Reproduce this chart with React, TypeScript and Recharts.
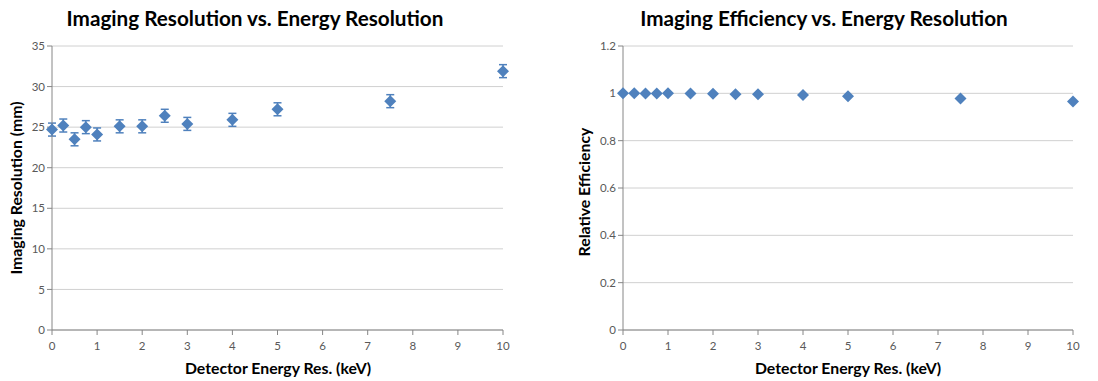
import { CartesianGrid, ErrorBar, Scatter, ScatterChart, XAxis, YAxis } from "recharts";

const energyRes = [0, 0.25, 0.5, 0.75, 1, 1.5, 2, 2.5, 3, 4, 5, 7.5, 10];
const imagingRes = [24.7, 25.2, 23.5, 25.0, 24.1, 25.1, 25.1, 26.4, 25.4, 25.9, 27.2, 28.2, 31.9];
const imagingErr = [0.8, 0.8, 0.8, 0.8, 0.8, 0.8, 0.8, 0.8, 0.8, 0.8, 0.8, 0.8, 0.8];
const efficiency = [1.0, 1.0, 0.999, 0.999, 1.0, 0.999, 0.998, 0.996, 0.996, 0.993, 0.988, 0.978, 0.965];

const xTicks = [0, 1, 2, 3, 4, 5, 6, 7, 8, 9, 10];
const resTicks = [0, 5, 10, 15, 20, 25, 30, 35];
const effTicks = [0, 0.2, 0.4, 0.6, 0.8, 1, 1.2];

const BLUE = "#4F81BD";
const FONT = "Lato, 'Open Sans', sans-serif";

const resData = energyRes.map((x, i) => ({ x, y: imagingRes[i], err: imagingErr[i] }));
const effData = energyRes.map((x, i) => ({ x, y: efficiency[i] }));

function Diamond(props: any) {
  const { cx, cy } = props;
  const r = 6;
  return (
    <polygon
      points={`${cx},${cy - r} ${cx + r},${cy} ${cx},${cy + r} ${cx - r},${cy}`}
      fill={BLUE}
    />
  );
}

const tickStyle = { fontSize: 11.5, fill: "#595959", fontFamily: FONT };
const xTickStyle = { ...tickStyle, dy: 5 };
const axisLine = { stroke: "#868686" };

function Label({ x, y, size, text, rotate }: { x: number; y: number; size: number; text: string; rotate?: boolean }) {
  return (
    <div
      style={{
        position: "absolute",
        left: x,
        top: y,
        fontFamily: FONT,
        fontWeight: 700,
        fontSize: size,
        lineHeight: 1,
        color: "#000",
        whiteSpace: "nowrap",
        transform: `translate(-50%, -50%)${rotate ? " rotate(-90deg)" : ""}`,
      }}
    >
      {text}
    </div>
  );
}

export default function App() {
  return (
    <div style={{ position: "absolute", left: 0, top: 0, width: 1098, height: 381, background: "#fff" }}>
      <div style={{ position: "absolute", left: 0, top: 0 }}>
        <ScatterChart width={549} height={381} margin={{ top: 46, right: 46, bottom: 0, left: 0 }}>
          <CartesianGrid vertical={false} stroke="#d0d0d0" />
          <XAxis
            type="number"
            dataKey="x"
            domain={[0, 10]}
            ticks={xTicks}
            tick={xTickStyle}
            tickSize={5}
            axisLine={axisLine}
            tickLine={axisLine}
            height={51}
            interval={0}
          />
          <YAxis
            type="number"
            dataKey="y"
            domain={[0, 35]}
            ticks={resTicks}
            tick={tickStyle}
            tickSize={5}
            axisLine={axisLine}
            tickLine={axisLine}
            width={52}
            interval={0}
          />
          <Scatter data={resData} fill={BLUE} shape={<Diamond />} isAnimationActive={false}>
            <ErrorBar dataKey="err" direction="y" width={4} stroke={BLUE} strokeWidth={1.5} isAnimationActive={false} />
          </Scatter>
        </ScatterChart>
      </div>
      <div style={{ position: "absolute", left: 549, top: 0 }}>
        <ScatterChart width={549} height={381} margin={{ top: 46, right: 25, bottom: 0, left: 0 }}>
          <CartesianGrid vertical={false} stroke="#d0d0d0" />
          <XAxis
            type="number"
            dataKey="x"
            domain={[0, 10]}
            ticks={xTicks}
            tick={xTickStyle}
            tickSize={5}
            axisLine={axisLine}
            tickLine={axisLine}
            height={51}
            interval={0}
          />
          <YAxis
            type="number"
            dataKey="y"
            domain={[0, 1.2]}
            ticks={effTicks}
            tick={tickStyle}
            tickSize={5}
            axisLine={axisLine}
            tickLine={axisLine}
            width={74}
            interval={0}
          />
          <Scatter data={effData} fill={BLUE} shape={<Diamond />} isAnimationActive={false} />
        </ScatterChart>
      </div>
      <Label x={255} y={18} size={20.7} text="Imaging Resolution vs. Energy Resolution" />
      <Label x={824} y={18} size={20.7} text="Imaging Efficiency vs. Energy Resolution" />
      <Label x={278} y={368} size={15.8} text="Detector Energy Res. (keV)" />
      <Label x={848} y={368} size={15.8} text="Detector Energy Res. (keV)" />
      <Label x={16} y={188} size={15.8} text="Imaging Resolution (mm)" rotate />
      <Label x={584} y={192} size={15.8} text="Relative Efficiency" rotate />
    </div>
  );
}
